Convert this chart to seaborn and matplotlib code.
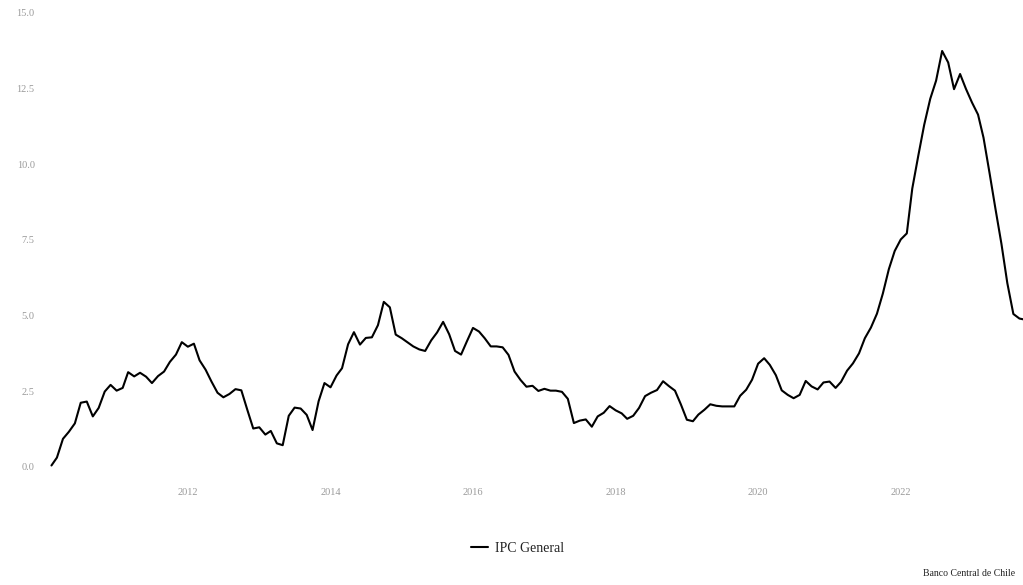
import matplotlib
matplotlib.use("Agg")

import matplotlib.dates as mdates
import matplotlib.pyplot as plt
import pandas as pd
import seaborn as sns

# IPC General, variacion anual (%), mensual desde feb-2010
ipc_2010 = [0.05, 0.31, 0.93, 1.16, 1.44, 2.12, 2.16, 1.67, 1.95, 2.49, 2.71]
ipc_2011 = [2.52, 2.61, 3.13, 2.99, 3.11, 2.98, 2.77, 3.00, 3.15, 3.47, 3.71, 4.12]
ipc_2012 = [3.97, 4.07, 3.52, 3.21, 2.82, 2.45, 2.30, 2.41, 2.57, 2.53, 1.88, 1.27]
ipc_2013 = [1.31, 1.07, 1.19, 0.78, 0.72, 1.69, 1.96, 1.93, 1.72, 1.22, 2.17, 2.77]
ipc_2014 = [2.63, 3.02, 3.26, 4.05, 4.45, 4.04, 4.26, 4.28, 4.68, 5.45, 5.27, 4.37]
ipc_2015 = [4.25, 4.11, 3.98, 3.88, 3.83, 4.18, 4.44, 4.79, 4.38, 3.83, 3.71, 4.15]
ipc_2016 = [4.59, 4.47, 4.25, 3.98, 3.98, 3.95, 3.70, 3.15, 2.87, 2.65, 2.68, 2.51]
ipc_2017 = [2.58, 2.52, 2.52, 2.48, 2.25, 1.45, 1.53, 1.57, 1.33, 1.67, 1.79, 2.01]
ipc_2018 = [1.87, 1.77, 1.59, 1.69, 1.95, 2.34, 2.45, 2.54, 2.83, 2.67, 2.52, 2.07]
ipc_2019 = [1.56, 1.51, 1.73, 1.89, 2.07, 2.02, 2.00, 2.00, 2.00, 2.35, 2.55, 2.88]
ipc_2020 = [3.41, 3.59, 3.37, 3.03, 2.53, 2.38, 2.27, 2.38, 2.84, 2.66, 2.56, 2.79]
ipc_2021 = [2.82, 2.61, 2.81, 3.18, 3.42, 3.75, 4.25, 4.60, 5.06, 5.72, 6.53, 7.13]
ipc_2022 = [7.51, 7.71, 9.19, 10.28, 11.29, 12.15, 12.75, 13.73, 13.35, 12.47, 12.97, 12.48]
ipc_2023 = [12.03, 11.63, 10.87, 9.70, 8.53, 7.36, 6.07, 5.05, 4.90, 4.86]

y_ticks = [0.0, 2.5, 5.0, 7.5, 10.0, 12.5, 15.0]
serie_label = "IPC General"
fuente = "Banco Central de Chile"

ipc = (ipc_2010 + ipc_2011 + ipc_2012 + ipc_2013 + ipc_2014 + ipc_2015 + ipc_2016
       + ipc_2017 + ipc_2018 + ipc_2019 + ipc_2020 + ipc_2021 + ipc_2022 + ipc_2023)
df = pd.DataFrame({
    "fecha": pd.date_range("2010-02-01", periods=len(ipc), freq="MS"),
    "ipc": ipc,
})

sns.set_theme(style="white")
plt.rcParams["font.family"] = ["Liberation Serif", "DejaVu Serif"]

W, H = 1023, 585
fig = plt.figure(figsize=(W / 100, H / 100), dpi=100)
# axes placed in pixel terms: x 50..1023, y (top) 12.5..467
ax = fig.add_axes([50 / W, (H - 467) / H, (W - 50) / W, 454.5 / H])

sns.lineplot(data=df, x="fecha", y="ipc", ax=ax, color="black",
             linewidth=1.5, label=serie_label)

# x scale: 1 Jan 2010 sits at px 45.4, one month ~5.94 px
t0 = mdates.date2num(pd.Timestamp("2010-01-01"))
px_day = 5.94 * 12 / 365.25
ax.set_xlim(t0 + (50 - 45.4) / px_day, t0 + (W - 45.4) / px_day)
ax.set_ylim(0, 15)
for ln in ax.get_lines():
    ln.set_clip_on(False)
    ln.set_solid_joinstyle("round")

ax.xaxis.set_major_locator(mdates.YearLocator(2))
ax.xaxis.set_major_formatter(mdates.DateFormatter("%Y"))
ax.set_yticks(y_ticks)
ax.set_yticklabels([f"{v:.1f}" for v in y_ticks])
ax.tick_params(axis="x", length=0, pad=15, labelsize=7.5, colors="#9a9a9a")
ax.tick_params(axis="y", length=0, pad=11, labelsize=7.5, colors="#9a9a9a")
ax.set_xlabel("")
ax.set_ylabel("")
ax.grid(False)
sns.despine(ax=ax, left=True, bottom=True)

leg = ax.legend(loc="center", bbox_to_anchor=(0.506, 0.063),
                bbox_transform=fig.transFigure, frameon=False,
                fontsize=10, handlelength=1.2, handletextpad=0.5)
for t in leg.get_texts():
    t.set_color("#222222")

fig.text(0.992, 0.012, fuente, ha="right", va="bottom",
         fontsize=7, color="#222222")

fig.savefig("out.png", dpi=100)
